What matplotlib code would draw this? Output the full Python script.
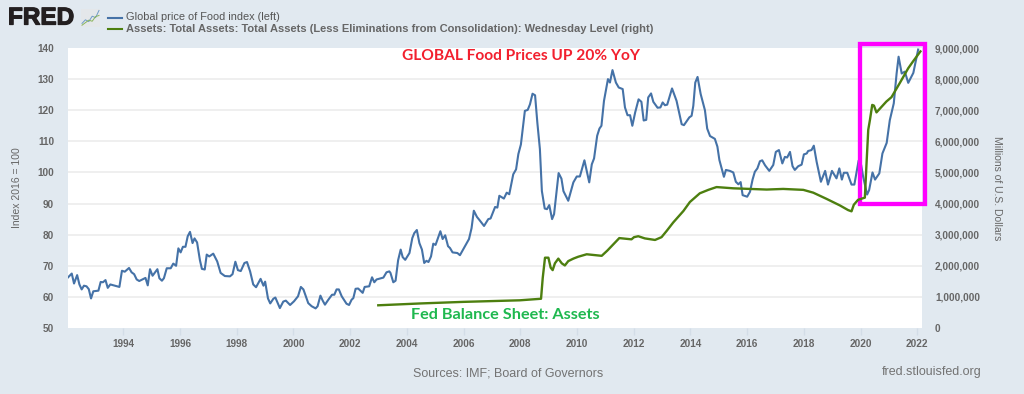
import matplotlib
matplotlib.use("Agg")
import matplotlib.pyplot as plt
import matplotlib.patheffects as pe
from matplotlib.patches import Rectangle

food_years = [
    1992.03, 1992.18, 1992.26, 1992.37, 1992.45, 1992.53, 1992.61, 1992.70, 1992.78, 1992.86,
    1992.94, 1993.12, 1993.20, 1993.28, 1993.37, 1993.45, 1993.54, 1993.70, 1993.86, 1993.95,
    1994.05, 1994.20, 1994.29, 1994.38, 1994.47, 1994.56, 1994.78, 1994.86, 1994.94, 1995.03,
    1995.20, 1995.27, 1995.36, 1995.43, 1995.53, 1995.67, 1995.76, 1995.86, 1995.94, 1996.02,
    1996.10, 1996.19, 1996.27, 1996.35, 1996.44, 1996.51, 1996.60, 1996.70, 1996.77, 1996.87,
    1996.94, 1997.03, 1997.17, 1997.31, 1997.43, 1997.58, 1997.76, 1997.85, 1997.95, 1998.04,
    1998.14, 1998.27, 1998.36, 1998.47, 1998.58, 1998.68, 1998.84, 1998.94, 1999.00, 1999.10,
    1999.18, 1999.29, 1999.36, 1999.52, 1999.64, 1999.73, 1999.88, 2000.02, 2000.16, 2000.26,
    2000.35, 2000.52, 2000.64, 2000.78, 2000.85, 2000.95, 2001.03, 2001.11, 2001.23, 2001.36,
    2001.44, 2001.52, 2001.60, 2001.70, 2001.87, 2001.96, 2002.05, 2002.11, 2002.19, 2002.28,
    2002.44, 2002.51, 2002.67, 2002.77, 2002.85, 2002.93, 2003.17, 2003.28, 2003.38, 2003.42,
    2003.52, 2003.60, 2003.69, 2003.78, 2003.85, 2003.94, 2004.09, 2004.19, 2004.26, 2004.35,
    2004.44, 2004.53, 2004.61, 2004.69, 2004.76, 2004.85, 2004.93, 2005.01, 2005.18, 2005.26,
    2005.35, 2005.45, 2005.52, 2005.61, 2005.78, 2005.87, 2006.05, 2006.19, 2006.28, 2006.36,
    2006.47, 2006.55, 2006.72, 2006.87, 2006.95, 2007.11, 2007.19, 2007.26, 2007.42, 2007.52,
    2007.61, 2007.75, 2007.85, 2007.93, 2008.02, 2008.16, 2008.26, 2008.34, 2008.43, 2008.52,
    2008.60, 2008.69, 2008.76, 2008.86, 2008.94, 2009.02, 2009.12, 2009.19, 2009.35, 2009.45,
    2009.52, 2009.69, 2009.87, 2009.99, 2010.10, 2010.26, 2010.43, 2010.52, 2010.60, 2010.71,
    2010.79, 2010.86, 2010.95, 2011.09, 2011.16, 2011.25, 2011.37, 2011.47, 2011.61, 2011.69,
    2011.78, 2011.87, 2011.95, 2012.05, 2012.17, 2012.27, 2012.35, 2012.44, 2012.51, 2012.61,
    2012.69, 2012.84, 2012.94, 2013.02, 2013.10, 2013.18, 2013.35, 2013.51, 2013.69, 2013.77,
    2013.96, 2014.04, 2014.10, 2014.17, 2014.25, 2014.36, 2014.51, 2014.59, 2014.69, 2014.86,
    2014.95, 2015.02, 2015.10, 2015.18, 2015.25, 2015.39, 2015.51, 2015.60, 2015.69, 2015.77,
    2015.84, 2016.00, 2016.10, 2016.19, 2016.27, 2016.36, 2016.45, 2016.53, 2016.63, 2016.78,
    2016.92, 2017.01, 2017.12, 2017.24, 2017.33, 2017.41, 2017.51, 2017.60, 2017.68, 2017.80,
    2017.92, 2018.00, 2018.10, 2018.15, 2018.27, 2018.35, 2018.45, 2018.60, 2018.75, 2018.85,
    2018.99, 2019.15, 2019.25, 2019.34, 2019.41, 2019.53, 2019.68, 2019.78, 2019.93, 2020.02,
    2020.09, 2020.23, 2020.30, 2020.42, 2020.51, 2020.66, 2020.77, 2020.92, 2021.03, 2021.17,
    2021.27, 2021.34, 2021.45, 2021.56, 2021.68, 2021.86, 2021.95, 2022.03,
]
food_index = [
    66.1, 67.5, 64.3, 67.0, 64.0, 62.4, 63.6, 63.4, 62.5, 59.5,
    61.8, 62.0, 64.8, 64.7, 65.4, 62.9, 64.0, 63.6, 63.2, 68.4,
    68.1, 69.3, 67.9, 67.3, 65.6, 65.1, 66.1, 63.7, 68.9, 66.8,
    68.9, 66.0, 65.2, 66.0, 69.2, 69.2, 70.7, 70.0, 75.6, 74.3,
    76.1, 76.1, 79.5, 80.9, 77.3, 78.8, 77.5, 71.8, 69.0, 68.8,
    73.6, 73.0, 73.9, 71.4, 67.7, 66.7, 66.6, 67.3, 71.3, 68.6,
    68.3, 70.9, 71.2, 68.2, 64.0, 63.1, 65.8, 63.6, 64.9, 59.5,
    57.9, 59.4, 59.8, 56.4, 58.5, 58.8, 57.4, 58.6, 60.2, 63.2,
    62.4, 58.0, 57.0, 56.3, 57.0, 60.4, 58.8, 57.5, 59.1, 60.7,
    60.7, 62.4, 62.4, 60.2, 57.8, 57.4, 59.1, 59.6, 62.6, 62.7,
    61.3, 63.2, 63.4, 66.3, 64.7, 65.6, 66.2, 67.9, 68.2, 67.7,
    64.7, 65.2, 71.8, 75.2, 72.8, 71.9, 74.1, 78.9, 80.5, 81.5,
    77.3, 75.2, 70.9, 71.6, 71.2, 73.0, 77.1, 76.7, 81.1, 78.6,
    79.8, 76.3, 75.7, 74.3, 74.1, 73.4, 76.3, 78.6, 82.1, 87.7,
    85.7, 84.8, 82.8, 85.0, 85.2, 88.9, 88.7, 92.5, 91.6, 93.5,
    93.0, 99.4, 101.0, 105.9, 109.0, 119.8, 120.1, 121.9, 125.3, 124.8,
    116.0, 107.5, 94.0, 88.4, 88.2, 89.5, 85.0, 86.6, 99.8, 98.0,
    94.0, 90.9, 96.8, 98.7, 98.7, 103.9, 96.8, 102.6, 104.5, 111.8,
    114.1, 115.0, 123.0, 130.0, 128.9, 132.9, 128.9, 127.3, 126.8, 120.9,
    118.4, 118.4, 115.0, 119.3, 123.5, 122.7, 116.7, 116.9, 124.1, 125.4,
    122.7, 120.8, 120.9, 122.5, 121.6, 121.8, 127.0, 123.0, 115.5, 115.2,
    117.7, 118.2, 121.4, 128.9, 130.7, 125.2, 120.0, 114.1, 111.7, 110.8,
    108.3, 104.0, 101.3, 98.6, 100.8, 100.5, 100.0, 97.0, 96.2, 96.9,
    92.7, 92.2, 93.8, 97.7, 100.2, 101.3, 103.6, 103.9, 102.3, 100.5,
    102.4, 106.6, 107.2, 102.9, 105.0, 104.8, 106.6, 102.0, 100.8, 102.0,
    102.5, 105.8, 106.1, 106.9, 107.2, 108.6, 103.4, 97.0, 100.5, 96.1,
    100.5, 98.1, 101.3, 97.7, 99.9, 99.9, 96.1, 96.1, 103.8, 102.4,
    98.6, 92.9, 94.3, 100.0, 97.7, 99.7, 106.1, 109.5, 116.8, 122.2,
    131.8, 137.2, 131.8, 132.4, 128.8, 132.0, 136.0, 139.5,
]

assets_years = [
    2002.99, 2004.50, 2006.00, 2007.98, 2008.73, 2008.79, 2008.87, 2008.99, 2009.07, 2009.14,
    2009.22, 2009.34, 2009.46, 2009.57, 2009.69, 2009.87, 2010.04, 2010.34, 2010.87, 2011.07,
    2011.28, 2011.49, 2011.92, 2012.01, 2012.16, 2012.39, 2012.75, 2012.98, 2013.16, 2013.39,
    2013.75, 2013.98, 2014.33, 2014.63, 2014.92, 2015.51, 2016.69, 2017.27, 2017.98, 2018.33,
    2018.80, 2019.27, 2019.56, 2019.68, 2019.76, 2019.91, 2020.15, 2020.21, 2020.27, 2020.33,
    2020.41, 2020.47, 2020.56, 2020.91, 2021.09, 2021.38, 2021.68, 2021.85, 2022.11,
]
assets_millions = [
    730000, 790000, 840000, 890000, 940000, 1610000, 2260000, 2260000, 1940000, 1860000,
    2080000, 2230000, 2080000, 2010000, 2150000, 2230000, 2290000, 2370000, 2320000, 2490000,
    2690000, 2890000, 2850000, 2920000, 2950000, 2880000, 2830000, 2920000, 3120000, 3390000,
    3760000, 4050000, 4330000, 4440000, 4530000, 4490000, 4450000, 4470000, 4440000, 4350000,
    4150000, 3940000, 3790000, 3750000, 3960000, 4120000, 4190000, 5300000, 6370000, 6690000,
    7170000, 7150000, 6930000, 7280000, 7420000, 7870000, 8350000, 8570000, 8890000,
]

year_ticks = list(range(1994, 2023, 2))
left_ticks = list(range(50, 141, 10))
right_ticks = list(range(0, 9000001, 1000000))

BG = "#e1e9f0"
GRID = "#ececec"
GRAY = "#666666"
BLUE = "#4572a7"
GREEN = "#4d7f0f"
W, H = 1024, 394
FONT = "Liberation Sans"

fig = plt.figure(figsize=(W / 100, H / 100), dpi=100, facecolor=BG)
ax = fig.add_axes([67.5 / W, 1 - 328 / H, (921.7 - 67.5) / W, 280 / H])
ax2 = ax.twinx()

ax.set_xlim(1992.03, 2022.155)
ax.set_ylim(50, 140)
ax2.set_ylim(0, 9000000)

for v in left_ticks[1:-1]:
    ax.axhline(v, color=GRID, lw=1.2, zorder=1)

ax.plot(food_years, food_index, color=BLUE, lw=1.5, zorder=3, solid_joinstyle="round")
ax2.plot(assets_years, assets_millions, color=GREEN, lw=1.7, zorder=4, solid_joinstyle="round")

for a in (ax, ax2):
    for s in a.spines.values():
        s.set_visible(False)

ax.set_xticks(year_ticks)
ax.set_xticklabels([str(y) for y in year_ticks], fontsize=7.2, fontweight="bold", color=GRAY, fontfamily=FONT)
ax.tick_params(axis="x", length=5, width=1, color="#d3dde7", pad=3)
ax.set_yticks(left_ticks)
ax.set_yticklabels([str(v) for v in left_ticks], fontsize=7.2, fontweight="bold", color=GRAY, fontfamily=FONT)
ax.tick_params(axis="y", length=0, pad=9.7)
ax2.set_yticks(right_ticks)
ax2.set_yticklabels(["0" if v == 0 else f"{v:,}" for v in right_ticks],
                    fontsize=7.2, fontweight="bold", color=GRAY, fontfamily=FONT)
ax2.tick_params(axis="y", length=0, pad=9.6)

fig.text(17 / W, 1 - 188 / H, "Index 2016 = 100", rotation=90, ha="center", va="center",
         fontsize=7.5, color=GRAY, fontfamily=FONT)
fig.text(997 / W, 1 - 188 / H, "Millions of U.S. Dollars", rotation=270, ha="center", va="center",
         fontsize=7.5, color=GRAY, fontfamily=FONT)

# annotations added on top of the FRED graph
fig.text(521 / W, 1 - 56 / H, "GLOBAL Food Prices UP 20% YoY", ha="center", va="center",
         fontsize=11.15, fontweight="bold", color="#f2202e", fontfamily="Lato")
fig.text(505 / W, 1 - 315 / H, "Fed Balance Sheet: Assets", ha="center", va="center",
         fontsize=11.7, fontweight="bold", color="#1fb84f", fontfamily="Lato")
ax.add_patch(Rectangle((2019.98, 89.9), 2022.27 - 2019.98, 141.4 - 89.9, fill=False,
                       edgecolor="#ff00ff", lw=3.1, clip_on=False, zorder=6))

# header: logo and legend
fig.text(8 / W, 1 - 18 / H, "FRED", ha="left", va="center", fontsize=17.5, fontweight="bold",
         color="#231f20", fontfamily=FONT,
         path_effects=[pe.withStroke(linewidth=0.9, foreground="#231f20")])
icon = fig.add_axes([81 / W, 1 - 27 / H, 19 / W, 18 / H], facecolor="#eceff2")
icon.plot([0, 1, 2, 3, 4, 5], [1, 2, 1.5, 3, 2.6, 4.6], color="#6f9bc8", lw=0.7)
icon.plot([0, 1, 2, 3, 4, 5], [0.5, 1.2, 1.9, 1.6, 2.9, 3.2], color="#8ab55a", lw=0.7)
icon.set_xlim(-0.3, 5.3)
icon.set_ylim(0, 5)
icon.axis("off")
icon.add_patch(Rectangle((-0.3, 0), 5.6, 5, color="#e4e7ea", zorder=0))

fig.add_artist(plt.Line2D([108 / W, 122 / W], [1 - 17.5 / H] * 2, color=BLUE, lw=1.5))
fig.add_artist(plt.Line2D([108 / W, 122 / W], [1 - 29 / H] * 2, color=GREEN, lw=1.5))
fig.text(126 / W, 1 - 17 / H, "Global price of Food index (left)", ha="left", va="center",
         fontsize=7.9, color="#555555", fontfamily=FONT)
fig.text(126 / W, 1 - 29 / H,
         "Assets: Total Assets: Total Assets (Less Eliminations from Consolidation): Wednesday Level (right)",
         ha="left", va="center", fontsize=8, fontweight="bold", color=GRAY, fontfamily=FONT)

# footer
fig.text(508 / W, 1 - 373 / H, "Sources: IMF; Board of Governors", ha="center", va="center",
         fontsize=9, color="#737373", fontfamily=FONT)
fig.text(981.5 / W, 1 - 372 / H, "fred.stlouisfed.org", ha="right", va="center",
         fontsize=9, color="#737373", fontfamily=FONT)

fig.savefig("out.png", dpi=100, facecolor=BG)
